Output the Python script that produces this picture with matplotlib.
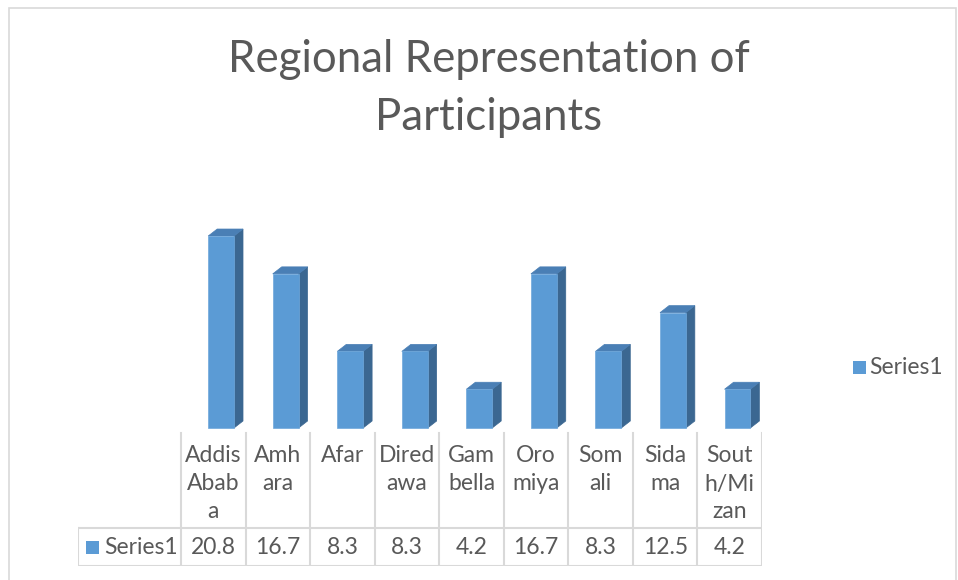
import numpy as np
import matplotlib.pyplot as plt
from matplotlib.patches import Polygon, Rectangle

plt.rcParams['font.family'] = ['Lato', 'DejaVu Sans']

regions = ['Addis\nAbab\na', 'Amh\nara', 'Afar', 'Dired\nawa', 'Gam\nbella',
           'Oro\nmiya', 'Som\nali', 'Sida\nma', 'Sout\nh/Mi\nzan']
values = [20.8, 16.7, 8.3, 8.3, 4.2, 16.7, 8.3, 12.5, 4.2]
series_name = 'Series1'

front = '#5b9bd5'
top_c = '#4a7fb5'
side = '#3b6791'
grid = '#d9d9d9'
txt = '#595959'

W, H = 958, 580
fig = plt.figure(figsize=(W / 100, H / 100), dpi=100)

# chart frame
fig.patches.append(Rectangle((9 / W, -0.01), (956 - 9) / W, (H - 8) / H + 0.01,
                             transform=fig.transFigure, fill=False,
                             edgecolor=grid, lw=1.2))

# one axes holding bars and data table; x: one unit per category
px_unit = 9.23          # pixels per data unit in y
col_px = 64.5           # pixels per category column
x0_px, x1_px = 78, 762
base_px, bot_px, top_px = 428, 566, 200
ax = fig.add_axes([x0_px / W, (H - bot_px) / H, (x1_px - x0_px) / W, (bot_px - top_px) / H])
ax.set_xlim(-(181 - x0_px) / col_px, 9)
ax.set_ylim(-(bot_px - base_px) / px_unit, (base_px - top_px) / px_unit)
ax.axis('off')

# 3D columns
n = len(values)
x = np.arange(n)
left_off, bar_w = 0.42, 0.40
dx, dy = 9 / col_px, 7 / px_unit
ax.bar(x + left_off, values, width=bar_w, align='edge', color=front,
       edgecolor='#6fa8dc', lw=0.5, zorder=3)
for xi, v in zip(x, values):
    l = xi + left_off
    r = l + bar_w
    ax.add_patch(Polygon([(r, 0), (r + dx, dy), (r + dx, v + dy), (r, v)],
                         closed=True, facecolor=side, edgecolor=side, lw=0.5, zorder=2))
    ax.add_patch(Polygon([(l, v), (l + dx, v + dy), (r + dx, v + dy), (r, v)],
                         closed=True, facecolor=top_c, edgecolor=top_c, lw=0.5, zorder=2))

# data table
y_head_top = -(433 - base_px) / px_unit
y_mid = -(528 - base_px) / px_unit
y_bot = -(566 - base_px) / px_unit
xl = -(181 - x0_px) / col_px
for k in range(n + 1):
    ax.plot([k, k], [y_head_top, y_bot], color=grid, lw=1.5, zorder=1)
ax.plot([xl, xl], [y_mid, y_bot], color=grid, lw=1.5)
ax.plot([xl, n], [y_mid, y_mid], color=grid, lw=1.5)
ax.plot([xl, n], [y_bot, y_bot], color=grid, lw=1.5)

fs = 16.5
line_units = 28 / px_unit
for xi, lab in zip(x, regions):
    for j, part in enumerate(lab.split('\n')):
        ax.text(xi + 0.5, -(456 - base_px) / px_unit - j * line_units, part,
                ha='center', va='center', fontsize=fs, color=txt)
y_row = (y_mid + y_bot) / 2
for xi, v in zip(x, values):
    ax.text(xi + 0.5, y_row, f'{v:.1f}', ha='center', va='center', fontsize=fs, color=txt)

# series key in table
ax.add_patch(Rectangle((xl + 8 / col_px, y_row - 6.5 / px_unit), 13 / col_px, 13 / px_unit,
                       facecolor=front, edgecolor='none'))
ax.text(xl + 26 / col_px, y_row, series_name, ha='left', va='center', fontsize=fs, color=txt)

# legend
fig.patches.append(Rectangle((853 / W, 1 - 374 / H), 13 / W, 13 / H,
                             transform=fig.transFigure, facecolor=front, edgecolor='none'))
fig.text(869 / W, 1 - 367 / H, series_name, ha='left', va='center', fontsize=fs, color=txt)

# title
fig.text(489 / W, 1 - 60 / H, 'Regional Representation of', ha='center', va='center',
         fontsize=31.5, color=txt)
fig.text(489 / W, 1 - 118 / H, 'Participants', ha='center', va='center',
         fontsize=31.5, color=txt)

fig.savefig('out.png', dpi=100)
